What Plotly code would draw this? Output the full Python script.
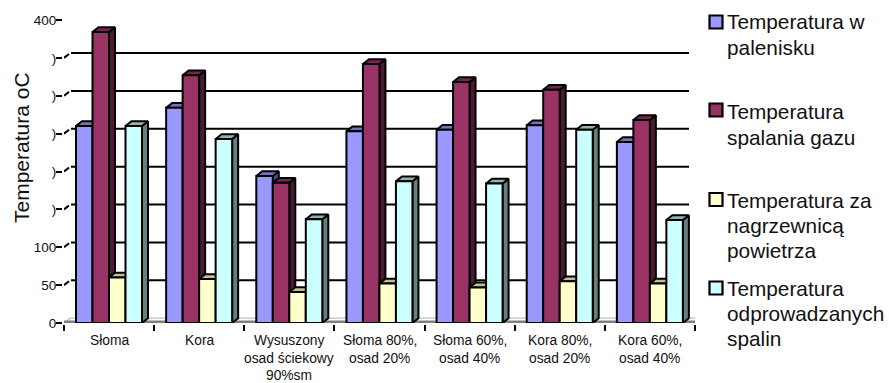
import plotly.graph_objects as go

WIDTH, HEIGHT = 889, 383
FONT = "Liberation Sans"

categories = ["Słoma", "Kora", "Wysuszony<br>osad ściekowy<br>90%sm", "Słoma 80%,<br>osad 20%",
              "Słoma 60%,<br>osad 40%", "Kora 80%,<br>osad 20%", "Kora 60%,<br>osad 40%"]
palenisko = [260, 284, 194, 253, 255, 261, 239]
gaz = [384, 327, 185, 342, 318, 308, 268]
nagrzewnica = [60, 58, 41, 52, 47, 55, 52]
spaliny = [260, 243, 137, 187, 184, 255, 136]

series_names = ["Temperatura w<br>palenisku", "Temperatura<br>spalania gazu",
                "Temperatura za<br>nagrzewnicą<br>powietrza", "Temperatura<br>odprowadzanych<br>spalin"]
series_values = [palenisko, gaz, nagrzewnica, spaliny]
front_colors = ["#9999ff", "#993366", "#ffffcc", "#ccffff"]
top_colors = ["#7373bf", "#732650", "#bfbf99", "#8fb3b3"]
side_colors = ["#4d4d80", "#4d1a33", "#808066", "#668080"]

tick_values = [0, 50, 100, 150, 200, 250, 300, 350, 400]
tick_labels = ["0", "50", "100", ")", ")", ")", ")", ")", "400"]

# Plot box on the page, in pixels
LEFT, RIGHT, TOP, BOTTOM = 64, 695, 20, 323
x_scale = (RIGHT - LEFT) / len(categories)
y_scale = (BOTTOM - TOP) / 400

# Pseudo-3D depth and bar layout, converted to axis units
DEPTH_X = 6 / x_scale
DEPTH_Y = 4.8 / y_scale
BAR_W = 16.5 / x_scale
BAR_START = 12 / x_scale
EDGE = 2

fig = go.Figure()


def add_poly(xs, ys, fill, z, line_color="black", width=EDGE):
    fig.add_trace(go.Scatter(x=xs, y=ys, mode="lines", fill="toself", fillcolor=fill,
                             line=dict(color=line_color, width=width), cliponaxis=False,
                             hoverinfo="skip", showlegend=False, zorder=z))


def add_lines(xs, ys, color, width, z):
    fig.add_trace(go.Scatter(x=xs, y=ys, mode="lines", line=dict(color=color, width=width),
                             cliponaxis=False, hoverinfo="skip", showlegend=False, zorder=z))


# Back wall: gridlines, pale top edge, slanted tick stubs, floor
grid_end = len(categories) - DEPTH_X
grid_x, grid_y, stub_x, stub_y = [], [], [], []
for v in tick_values[1:-1]:
    grid_x += [7 / x_scale, grid_end, None]
    grid_y += [v + DEPTH_Y, v + DEPTH_Y, None]
    stub_x += [0, 5 / x_scale, None]
    stub_y += [v, v + DEPTH_Y * 0.8, None]
add_lines(grid_x, grid_y, "black", 2, 0)
add_lines(stub_x, stub_y, "black", 2, 0)
add_lines([DEPTH_X, grid_end], [400 + DEPTH_Y + 0.5] * 2, "#d2d2d2", 1.2, 0)
add_lines([DEPTH_X, grid_end], [400 + DEPTH_Y - 3] * 2, "#c4c4c4", 1.2, 0)
add_lines([0, DEPTH_X], [400, 400 + DEPTH_Y], "#d2d2d2", 1.2, 0)
add_lines([0, DEPTH_X, len(categories)], [0, DEPTH_Y, DEPTH_Y], "#c0c0c0", 1.2, 0)
add_lines([0, len(categories)], [1.6, 1.6], "#808080", 2.4, 0)
add_lines([len(categories), len(categories) + DEPTH_X], [0, DEPTH_Y], "black", 2, 0)

# Bars, each series drawn over the previous one
for s, (values, name) in enumerate(zip(series_values, series_names)):
    top_x, top_y, side_x, side_y = [], [], [], []
    for c, v in enumerate(values):
        x0 = c + BAR_START + s * BAR_W
        x1 = x0 + BAR_W
        top_x += [x0, x0 + DEPTH_X, x1 + DEPTH_X, x1, x0, None]
        top_y += [v, v + DEPTH_Y, v + DEPTH_Y, v, v, None]
        side_x += [x1, x1 + DEPTH_X, x1 + DEPTH_X, x1, x1, None]
        side_y += [0, DEPTH_Y, v + DEPTH_Y, v, 0, None]
    add_poly(side_x, side_y, side_colors[s], 2 * s + 1)
    add_poly(top_x, top_y, top_colors[s], 2 * s + 1)
    fig.add_trace(go.Bar(x=list(range(len(values))), y=values, width=BAR_W,
                         offset=BAR_START + s * BAR_W, name=name.replace("<br>", " "),
                         marker=dict(color=front_colors[s], line=dict(color="black", width=EDGE)),
                         cliponaxis=False, hoverinfo="skip", showlegend=False, zorder=2 * s + 2))

annotations = []

# Category labels, one annotation per line for the wide line spacing
LABEL_ROWS = [340, 358, 375.5]
for c, cat in enumerate(categories):
    for row, text in zip(LABEL_ROWS, cat.split("<br>")):
        annotations.append(dict(x=c + 0.5, xref="x", y=1 - row / HEIGHT, yref="paper", text=text,
                                showarrow=False, xanchor="center", yanchor="middle",
                                font=dict(family=FONT, size=13.8, color="#111111")))

annotations.append(dict(x=22 / WIDTH, xref="paper", y=1 - 148 / HEIGHT, yref="paper",
                        text="Temperatura oC", textangle=-90, showarrow=False,
                        xanchor="center", yanchor="middle",
                        font=dict(family=FONT, size=21, color="#111111")))

# Hand-built legend: square key and wrapped text
legend_rows = [[22, 48], [111, 137], [200, 226, 250], [288, 313, 338]]
key_centres = [22, 110, 199.5, 288]
shapes = []
for s, name in enumerate(series_names):
    for row, text in zip(legend_rows[s], name.split("<br>")):
        annotations.append(dict(x=728 / WIDTH, xref="paper", y=1 - row / HEIGHT, yref="paper", text=text,
                                showarrow=False, xanchor="left", yanchor="middle", xshift=-3,
                                font=dict(family=FONT, size=20.8, color="#111111")))
    cy = key_centres[s]
    shapes.append(dict(type="rect", xref="paper", yref="paper", x0=709.5 / WIDTH, x1=722.5 / WIDTH,
                       y0=1 - (cy + 6.5) / HEIGHT, y1=1 - (cy - 6.5) / HEIGHT,
                       fillcolor=front_colors[s], line=dict(color="black", width=2.2)))

fig.update_layout(
    width=WIDTH, height=HEIGHT, margin=dict(l=0, r=0, t=0, b=0, autoexpand=False),
    paper_bgcolor="white", plot_bgcolor="white", barmode="overlay", showlegend=False,
    annotations=annotations, shapes=shapes,
    xaxis=dict(domain=[LEFT / WIDTH, RIGHT / WIDTH], range=[0, len(categories)],
               showgrid=False, zeroline=False, showline=True, linecolor="black", linewidth=2.2,
               tickmode="array", tickvals=list(range(len(categories) + 1)), ticktext=[""] * 8,
               ticks="outside", ticklen=6, tickwidth=2, tickcolor="black"),
    yaxis=dict(domain=[1 - BOTTOM / HEIGHT, 1 - TOP / HEIGHT], range=[0, 400],
               showgrid=False, zeroline=False, showline=True, linecolor="black", linewidth=2.2,
               tickmode="array", tickvals=tick_values, ticktext=tick_labels,
               ticks="outside", ticklen=6, tickwidth=2, tickcolor="black", ticklabelstandoff=-3,
               tickfont=dict(family=FONT, size=13.5, color="#111111")),
)

fig.write_html("out.html", config=dict(displayModeBar=False))
